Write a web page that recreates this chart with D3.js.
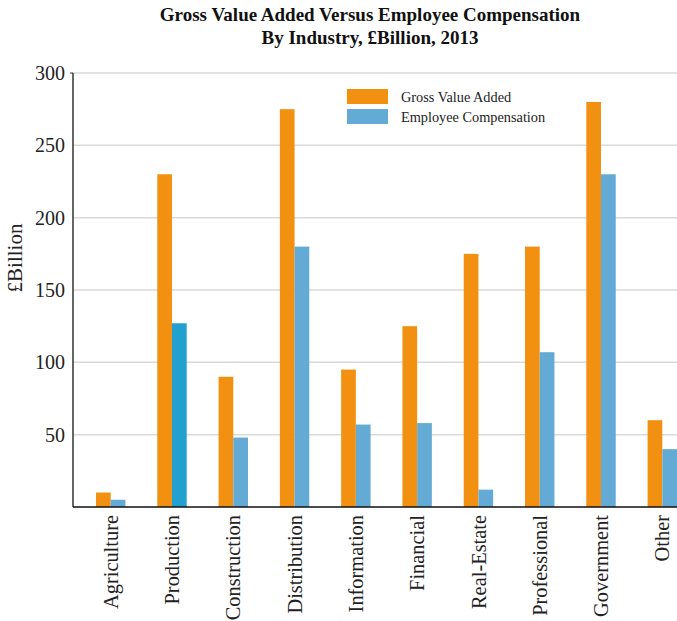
<!DOCTYPE html>
<html><head><meta charset="utf-8">
<script src="https://cdn.jsdelivr.net/npm/d3@7"></script>
<style>body{margin:0;background:#fff}svg{display:block}</style>
</head><body>
<svg id="c" width="677" height="621"></svg>
<script>
const categories = ["Agriculture","Production","Construction","Distribution","Information","Financial","Real-Estate","Professional","Government","Other"];
const grossValueAdded = [10,230,90,275,95,125,175,180,280,60];
const employeeCompensation = [5,127,48,180,57,58,12,107,230,40];
const seriesNames = ["Gross Value Added","Employee Compensation"];
const yTicks = [50,100,150,200,250,300];
const colors = ["#f29111","#63abd5"];
const highlightColor = "#22a1d1";
const highlightIndex = 1;

(function(){
const svg = d3.select("#c");
const mLeft = 73, mTop = 73, mBottom = 507, mRight = 700;
const serif = "'Liberation Serif','Times New Roman',serif";

const y = d3.scaleLinear().domain([0,300]).range([mBottom, mTop]);
const x0 = d3.scaleBand().domain(categories).range([mLeft, mRight]).paddingInner(0.52).paddingOuter(0.375);
const x1 = d3.scaleBand().domain(seriesNames).range([0, x0.bandwidth()]);

// grid
svg.append("g").selectAll("line").data(yTicks).join("line")
  .attr("x1", mLeft).attr("x2", mRight).attr("y1", d=>y(d)).attr("y2", d=>y(d))
  .attr("stroke","#d9d9d9").attr("stroke-width",1.5);

// bars
const data = categories.map((c,i)=>({c, i, vals:[grossValueAdded[i], employeeCompensation[i]]}));
const g = svg.append("g").selectAll("g").data(data).join("g")
  .attr("transform", d=>`translate(${x0(d.c)},0)`);
g.selectAll("rect").data(d=>d.vals.map((v,k)=>({v,k,i:d.i}))).join("rect")
  .attr("x", d=>x1(seriesNames[d.k])).attr("width", x1.bandwidth())
  .attr("y", d=>y(d.v)).attr("height", d=>y(0)-y(d.v))
  .attr("fill", d=> (d.k===1 && d.i===highlightIndex) ? highlightColor : colors[d.k]);

// y axis
const yAxis = svg.append("g").attr("transform",`translate(${mLeft},0)`)
  .call(d3.axisLeft(y).tickValues(yTicks).tickSize(0).tickPadding(8));
yAxis.select(".domain").remove();
yAxis.selectAll("text").attr("font-family", serif).attr("font-size", 20).attr("fill","#222");
svg.append("line").attr("x1",mLeft).attr("x2",mLeft).attr("y1",mTop).attr("y2",mBottom).attr("stroke","#333").attr("stroke-width",1.5);
svg.append("line").attr("x1",mLeft-3).attr("x2",mLeft).attr("y1",mTop).attr("y2",mTop).attr("stroke","#333");

// x axis
const xAxis = svg.append("g").attr("transform",`translate(0,${mBottom})`)
  .call(d3.axisBottom(x0).tickSize(0).tickPadding(0));
xAxis.select(".domain").remove();
xAxis.selectAll("text")
  .attr("font-family", serif).attr("font-size", 20.4).attr("fill","#222")
  .attr("transform","rotate(-90)").attr("text-anchor","end")
  .attr("x",-8).attr("y",0).attr("dy","0.35em");
svg.append("line").attr("x1",mLeft).attr("x2",mRight).attr("y1",mBottom).attr("y2",mBottom).attr("stroke","#111").attr("stroke-width",1.5);

// y label
svg.append("text").attr("transform","translate(22,258) rotate(-90)")
  .attr("text-anchor","middle").attr("font-family",serif).attr("font-size",21).attr("fill","#222")
  .text("£Billion");

// title
const title = svg.append("text").attr("x",370).attr("text-anchor","middle")
  .attr("font-family",serif).attr("font-size",19).attr("font-weight","bold").attr("fill","#111");
title.append("tspan").attr("x",370).attr("y",21).text("Gross Value Added Versus Employee Compensation");
title.append("tspan").attr("x",370).attr("y",44).text("By Industry, £Billion, 2013");

// legend
const lg = svg.append("g").attr("transform","translate(347,89)");
const li = lg.selectAll("g").data(seriesNames).join("g").attr("transform",(d,i)=>`translate(0,${i*20})`);
li.append("rect").attr("width",41).attr("height",15).attr("fill",(d,i)=>colors[i]);
li.append("text").attr("x",54).attr("y",12.5).attr("font-family",serif).attr("font-size",14.3).attr("fill","#222").text(d=>d);
})();
</script>
</body></html>
